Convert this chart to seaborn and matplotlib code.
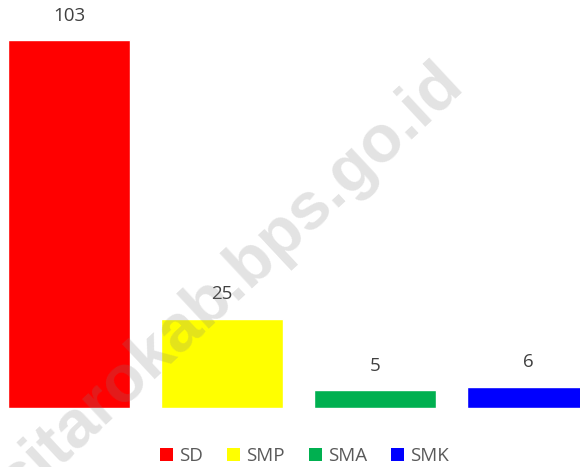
import matplotlib
matplotlib.use("Agg")
import matplotlib.pyplot as plt
from matplotlib.patches import Patch
import seaborn as sns
import pandas as pd

# jenjang sekolah dan jumlahnya
categories = ["SD", "SMP", "SMA", "SMK"]
values = [103, 25, 5, 6]
colors = ["#ff0000", "#ffff00", "#00b050", "#0000ff"]

sns.set_style("white")
plt.rcParams['font.family'] = ['Open Sans', 'DejaVu Sans']

df = pd.DataFrame({"jenjang": categories, "jumlah": values})

fig = plt.figure(figsize=(5.8, 4.67), dpi=100)
ax = fig.add_axes([0, 59 / 467, 1, 408 / 467])
sns.barplot(data=df, x="jenjang", y="jumlah", hue="jenjang",
            palette=colors, width=0.8, saturation=1, legend=False, ax=ax)

ax.set_xlim(-0.45, 3.34)
ax.set_ylim(0, 114.2)
ax.axis("off")

for i, v in enumerate(values):
    ax.annotate(str(v), (i, v), xytext=(0, 11), textcoords="offset points",
                ha="center", va="bottom", fontsize=13.5, color="#404040")

handles = [Patch(facecolor=c, edgecolor="none") for c in colors]
fig.legend(handles, categories, loc="center", bbox_to_anchor=(0.525, 0.023),
           ncol=4, frameon=False, fontsize=13.5, handlelength=0.7,
           handleheight=0.7, handletextpad=0.3, columnspacing=1.3,
           labelcolor="#595959")

# watermark (huruf pertama terpotong di pojok kiri bawah)
fig.text(231 / 580, 1 - 283 / 467, "sitarokab.bps.go.id", rotation=43,
         fontsize=48, fontweight="bold", color="#808080", alpha=0.22,
         ha="center", va="center", family="Liberation Sans")

fig.savefig("out.png", dpi=100)
